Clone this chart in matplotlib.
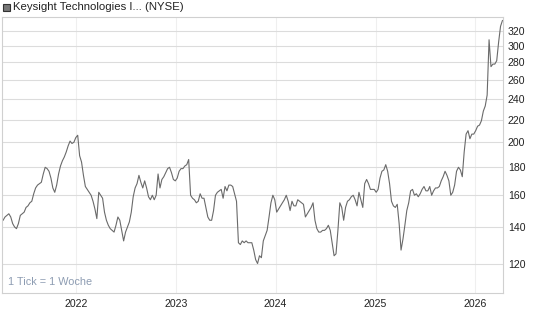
import numpy as np
import pandas as pd
import matplotlib
matplotlib.use("Agg")
import matplotlib.pyplot as plt
import matplotlib.dates as mdates
from matplotlib.patches import Rectangle

plt.rcParams['font.family'] = ['Liberation Sans', 'DejaVu Sans']

# weekly closes (Apr 2021 - Apr 2026)
start_date = "2021-04-09"
prices = [
    144, 146, 147, 148, 146, 142, 140, 139, 142, 147,
    148, 149, 152, 153, 155, 156, 161, 165, 167, 168,
    169, 175, 180, 179, 177, 172, 165, 162, 167, 175,
    181, 185, 188, 192, 197, 201, 199, 200, 204, 206,
    189, 184, 174, 166, 164, 162, 160, 156, 151, 145,
    162, 160, 158, 149,
    144, 141, 139, 138, 137, 141, 146, 144, 138, 132,
    137, 140, 143, 149, 159, 165, 168, 174, 169, 165,
    170, 165, 159, 157, 160, 157, 160, 175, 165, 171,
    173, 176, 179, 180, 176, 171, 170, 172, 177, 179,
    179, 181, 182, 186, 160, 158, 157, 155, 156, 161,
    158, 158,
    152, 146, 144, 144, 150, 160, 162, 163, 164, 158,
    166, 163, 167, 167, 166, 161, 156, 131, 130, 132,
    131, 132, 131, 131, 131, 127, 122, 120, 124, 123,
    132, 135, 138, 146, 155, 160, 157, 149, 151, 153,
    155, 157, 160, 156, 150, 156, 153, 153, 157, 156,
    155, 154,
    146, 148, 150, 152, 155, 144, 139, 137, 137, 138,
    138, 139, 141, 138, 131, 124, 125, 138, 155, 152,
    144, 152, 156, 157, 159, 160, 157, 153, 162, 157,
    152, 168, 171, 168, 164, 164, 164, 162, 164, 172,
    177, 178, 182, 177, 168, 156, 153, 152, 154, 142,
    127, 133, 141,
    150, 155, 163, 164, 160, 161, 159, 161, 164, 166,
    163, 163, 166, 160, 163, 165, 165, 166, 170, 173,
    177, 174, 170, 160, 162, 167, 177, 180, 178, 173,
    192, 207, 210, 203, 207, 207, 210, 214, 215, 219,
    228, 233, 244, 308, 275, 278, 278, 282, 305, 326,
    334,
]
dates = pd.date_range(start_date, periods=len(prices), freq="7D")

y_ticks = [120, 140, 160, 180, 200, 220, 240, 260, 280, 300, 320]
legend_label = "Keysight Technologies I... (NYSE)"
note_label = "1 Tick = 1 Woche"

fig = plt.figure(figsize=(5.45, 3.27), dpi=100)
ax = fig.add_axes([2 / 545, 1 - 293 / 327, 501 / 545, 276 / 327])

ax.plot(dates, prices, color="#6a6a6a", lw=0.8)

ax.set_yscale("log")
ax.set_ylim(106, 339)
ax.set_xlim(dates[0] - pd.Timedelta(days=4), dates[-1] + pd.Timedelta(days=2))

ax.yaxis.set_major_locator(matplotlib.ticker.FixedLocator(y_ticks))
ax.yaxis.set_minor_locator(matplotlib.ticker.NullLocator())
ax.yaxis.set_major_formatter(matplotlib.ticker.FixedFormatter([str(t) for t in y_ticks]))
ax.yaxis.tick_right()
ax.xaxis.set_major_locator(mdates.YearLocator())
ax.xaxis.set_major_formatter(mdates.DateFormatter("%Y"))

ax.tick_params(axis="both", length=0, labelsize=7.6, colors="#222222")
ax.tick_params(axis="y", pad=3.5)
ax.tick_params(axis="x", pad=4)

ax.grid(axis="y", color="#dcdcdc", lw=0.8)
ax.grid(axis="x", color="#efefef", lw=0.8)
ax.set_axisbelow(True)
for sp in ax.spines.values():
    sp.set_color("#d0d0d0")
    sp.set_linewidth(0.8)

ax.text(0.012, 0.022, note_label, transform=ax.transAxes, fontsize=7.8,
        color="#8d9cb2", ha="left", va="bottom")

# legend box at the top left
fig.add_artist(Rectangle((3 / 545, 1 - 11 / 327), 7 / 545, 7 / 327,
                         transform=fig.transFigure, facecolor="#777777",
                         edgecolor="#333333", lw=0.8))
fig.text(13 / 545, 1 - 7 / 327, legend_label, fontsize=8.2, color="#222222",
         ha="left", va="center")

fig.savefig("out.png", dpi=100)
